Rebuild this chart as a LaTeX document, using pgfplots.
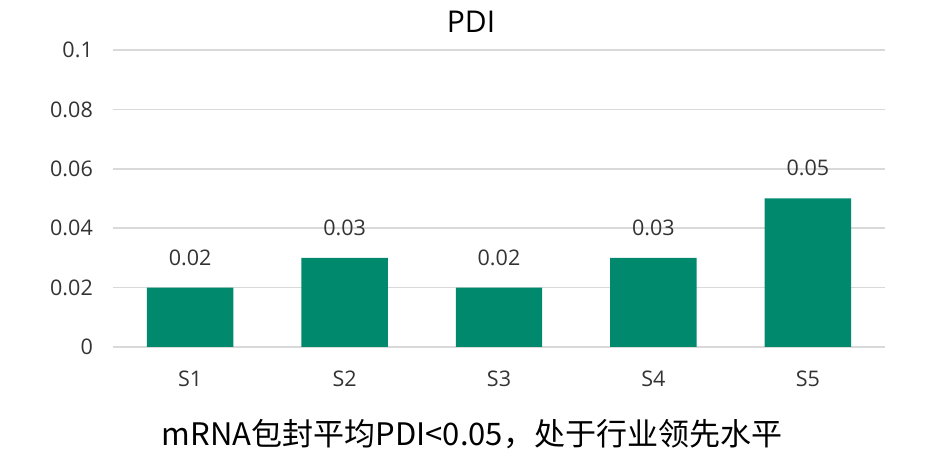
\documentclass[border=0pt]{standalone}
\usepackage{pgfplots}
\pgfplotsset{compat=1.18}
\usepackage{fontspec}
\setmainfont{Open Sans}
\newfontfamily\cjk{Noto Sans CJK SC}
\definecolor{barc}{HTML}{00896D}
\definecolor{gridc}{HTML}{D9D9D9}
\definecolor{txt}{HTML}{333333}
\begin{document}
\begin{tikzpicture}[x=1pt,y=1pt]
\path[use as bounding box] (0,0) rectangle (940,465);
\begin{axis}[
  at={(113pt,118pt)}, anchor=south west,
  scale only axis, width=772pt, height=297pt,
  xmin=-0.5, xmax=4.5, ymin=0, ymax=0.1,
  axis lines*=left,
  y axis line style={draw=none},
  x axis line style={gridc, line width=1.5pt},
  ymajorgrids, grid style={gridc, line width=1.5pt},
  major tick length=0pt,
  ytick={0,0.02,0.04,0.06,0.08,0.1},
  yticklabels={0,0.02,0.04,0.06,0.08,0.1},
  xtick={0,1,2,3,4},
  xticklabels={S1,S2,S3,S4,S5},
  /pgf/number format/assume math mode=true,
  ticklabel style={font=\fontsize{21.5}{25}\selectfont, text=txt},
  yticklabel style={inner sep=0pt, xshift=-20pt},
  xticklabel style={inner sep=0pt, yshift=-24pt},
  ybar, bar width=0.56,
  point meta=explicit symbolic,
  nodes near coords,
  nodes near coords style={font=\fontsize{21.5}{25}\selectfont, text=txt, anchor=south, inner sep=0pt, yshift=22pt},
]
\addplot[fill=barc, draw=none] coordinates {(0,0.02)[0.02] (1,0.03)[0.03] (2,0.02)[0.02] (3,0.03)[0.03] (4,0.05)[0.05]};
\end{axis}
\node[font=\fontsize{30}{36}\selectfont, text=black] at (471,443) {PDI};
\node[font=\cjk\fontsize{31}{37}\selectfont, text=black] at (472,31) {mRNA包封平均PDI<0.05，处于行业领先水平};
\end{tikzpicture}
\end{document}
